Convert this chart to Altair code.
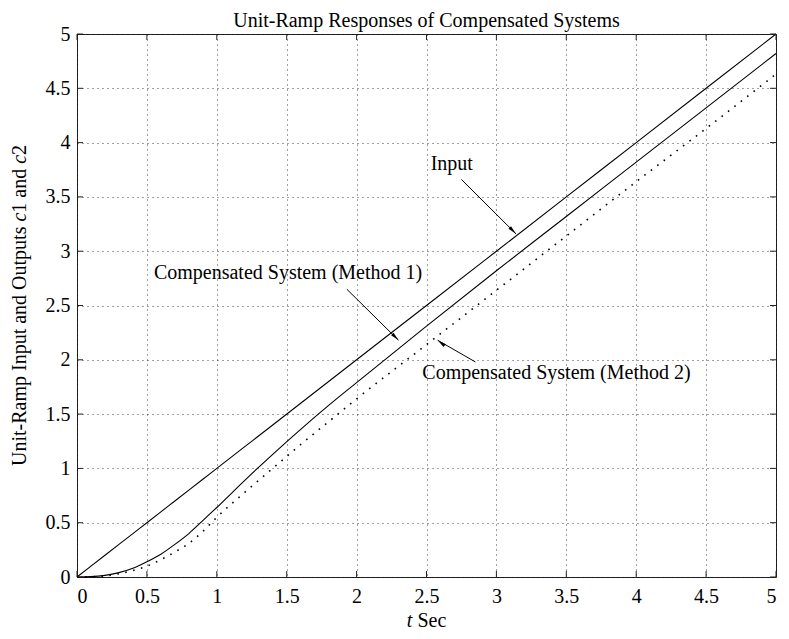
import altair as alt
import pandas as pd

FONT = "Liberation Serif"

# ---- data ----
t_vals = [0, 0.1, 0.2, 0.3, 0.4, 0.5, 0.6, 0.7, 0.8, 0.9, 1.0, 1.2, 1.4, 1.6, 1.8, 2.0, 2.5, 3.0, 3.5, 4.0, 4.5, 5.0]
input_vals = [0, 0.1, 0.2, 0.3, 0.4, 0.5, 0.6, 0.7, 0.8, 0.9, 1.0, 1.2, 1.4, 1.6, 1.8, 2.0, 2.5, 3.0, 3.5, 4.0, 4.5, 5.0]
c1_vals = [0, 0.003, 0.015, 0.04, 0.08, 0.14, 0.21, 0.30, 0.40, 0.52, 0.64, 0.89, 1.13, 1.36, 1.58, 1.79, 2.31, 2.82, 3.32, 3.82, 4.32, 4.82]
c2_vals = [0, 0.002, 0.01, 0.03, 0.06, 0.10, 0.16, 0.23, 0.31, 0.42, 0.55, 0.78, 1.00, 1.22, 1.43, 1.64, 2.14, 2.64, 3.14, 3.64, 4.13, 4.63]

tick_vals = [0, 0.5, 1, 1.5, 2, 2.5, 3, 3.5, 4, 4.5, 5]

title_text = "Unit-Ramp Responses of Compensated Systems"

ann_labels = ["Input", "Compensated System (Method 1)", "Compensated System (Method 2)"]
ann_x = [2.53, 0.55, 2.47]
ann_y = [3.80, 2.80, 1.88]

arrow_x = [2.75, 1.93, 2.85]
arrow_y = [3.66, 2.65, 1.98]
arrow_x2 = [3.14, 2.30, 2.58]
arrow_y2 = [3.16, 2.18, 2.18]
arrow_angle = [135, 135, 308]

W, H = 699, 543

n = len(t_vals)
df = pd.DataFrame({
    "t": t_vals * 3,
    "y": input_vals + c1_vals + c2_vals,
    "series": ["Input"] * n + ["c1"] * n + ["c2"] * n,
})
ann_df = pd.DataFrame({"x": ann_x, "y": ann_y, "label": ann_labels})
arr_df = pd.DataFrame({"x": arrow_x, "y": arrow_y, "x2": arrow_x2, "y2": arrow_y2, "angle": arrow_angle})
tick_df = pd.DataFrame({"v": tick_vals})
one = pd.DataFrame({"k": [0]})

xs = alt.Scale(domain=[0, 5], nice=False, zero=False)
ys = alt.Scale(domain=[0, 5], nice=False, zero=False)

common_axis = dict(values=tick_vals, format="~g", grid=True, gridDash=[1, 4], gridColor="#000",
                   gridOpacity=0.75, gridWidth=1, ticks=False, domain=False, labelFont=FONT,
                   labelFontSize=20, labelColor="black", title=None)
xaxis = alt.Axis(labelPadding=9, **common_axis)
yaxis = alt.Axis(labelPadding=7, **common_axis)

X = lambda f: alt.X(f, scale=xs, axis=xaxis)
Y = lambda f: alt.Y(f, scale=ys, axis=yaxis)

base = alt.Chart(df)
solid = base.transform_filter(alt.datum.series != "c2").mark_line(
    color="black", strokeWidth=1.1, interpolate="monotone"
).encode(x=X("t:Q"), y=Y("y:Q"), detail="series:N")
dotted = base.transform_filter(alt.datum.series == "c2").mark_line(
    color="black", strokeWidth=1.6, strokeDash=[1.6, 6.5], interpolate="monotone"
).encode(x=X("t:Q"), y=Y("y:Q"))

texts = alt.Chart(ann_df).mark_text(
    font=FONT, fontSize=20, align="left", baseline="middle", color="black"
).encode(x=X("x:Q"), y=Y("y:Q"), text="label:N")

arrows = alt.Chart(arr_df).mark_rule(color="black", strokeWidth=1).encode(
    x=X("x:Q"), y=Y("y:Q"), x2="x2:Q", y2="y2:Q")
heads = alt.Chart(arr_df).mark_point(
    shape="M0,0 L-0.45,2.2 L0.45,2.2 Z", filled=True, size=64, color="black", opacity=1
).encode(x=X("x2:Q"), y=Y("y2:Q"), angle=alt.Angle("angle:Q", scale=None))

TK = 6
tick_color = "#222"
bt = alt.Chart(tick_df).mark_rule(color=tick_color).encode(
    x=X("v:Q"), y=alt.value(H), y2=alt.value(H - TK))
tt = alt.Chart(tick_df).mark_rule(color=tick_color).encode(
    x=X("v:Q"), y=alt.value(0), y2=alt.value(TK))
lt = alt.Chart(tick_df).mark_rule(color=tick_color).encode(
    y=Y("v:Q"), x=alt.value(0), x2=alt.value(TK))
rt = alt.Chart(tick_df).mark_rule(color=tick_color).encode(
    y=Y("v:Q"), x=alt.value(W), x2=alt.value(W - TK))


def seg(txt, x, y, italic=False, angle=0, align="left"):
    props = dict(font=FONT, fontSize=20, align=align, baseline="middle", color="black")
    if italic:
        props["fontStyle"] = "italic"
    if angle:
        props["angle"] = angle
    return alt.Chart(one).mark_text(**props).encode(
        x=alt.value(x), y=alt.value(y), text=alt.value(txt))


title = seg(title_text, W / 2, -13, align="center")

yt_x = -57
yb = H / 2 + 160.5
ytitle = [
    seg("Unit-Ramp Input and Outputs", yt_x, yb, angle=270),
    seg("c", yt_x, yb - 244.4, italic=True, angle=270),
    seg("1 and", yt_x, yb - 253.3, angle=270),
    seg("c", yt_x, yb - 302.2, italic=True, angle=270),
    seg("2", yt_x, yb - 311.1, angle=270),
]
xt_y = 587
xs0 = W / 2 - 19.7
xtitle = [
    seg("t", xs0, xt_y, italic=True),
    seg("Sec", xs0 + 10.6, xt_y),
]

chart = alt.layer(
    solid, dotted, bt, tt, lt, rt, arrows, heads, texts, title, *ytitle, *xtitle
).properties(
    width=W, height=H,
    autosize="none",
    padding={"left": 69, "top": 26, "right": 5, "bottom": 54},
).configure_view(stroke="#222", strokeWidth=1)

chart.save("out.html", embed_options={"renderer": "svg", "actions": False})
